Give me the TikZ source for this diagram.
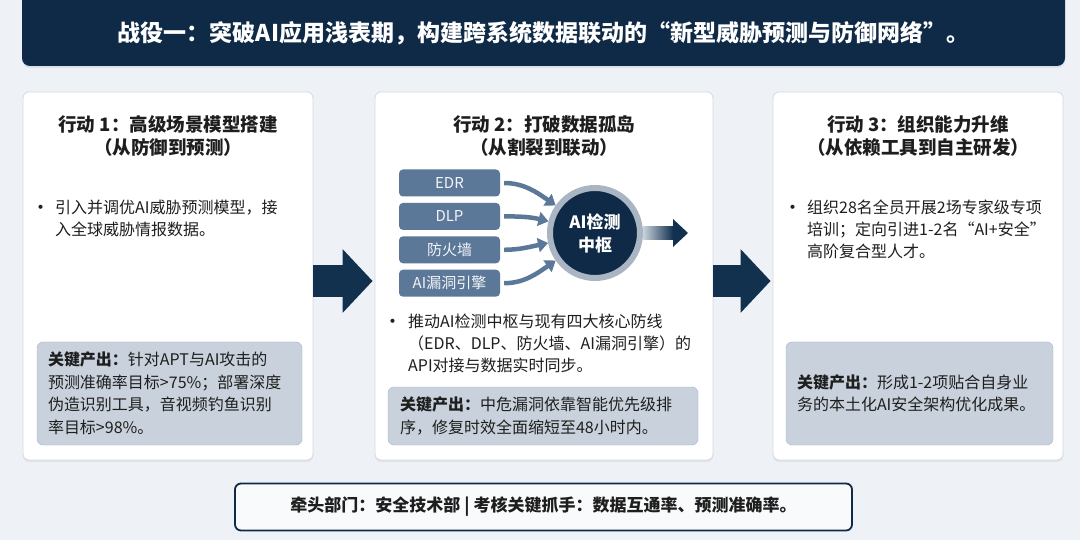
\documentclass[tikz,border=0pt]{standalone}
\usepackage{fontspec}
\setmainfont{Noto Sans CJK SC}
\usepackage{tikz}
\usetikzlibrary{arrows.meta, positioning, calc, shadows}
\definecolor{fondo}{HTML}{EEF2F6}
\definecolor{marino}{HTML}{0F2A47}
\definecolor{flecha}{HTML}{12314F}
\definecolor{borde}{HTML}{D3DAE2}
\definecolor{clave}{HTML}{C9D2DC}
\definecolor{claveborde}{HTML}{A8B4C1}
\definecolor{fuente}{HTML}{5B7898}
\definecolor{anillo}{HTML}{A9B5C2}
\definecolor{texto}{HTML}{1E1E1E}
\definecolor{claro}{HTML}{C9D3DD}
\tikzset{
    card/.style={draw=borde, fill=white, rounded corners=6pt, minimum height=368pt, line width=0.8pt,
        drop shadow={opacity=0.12, shadow xshift=0pt, shadow yshift=-2pt}},
    cardtitle/.style={align=center, text=texto, font=\fontsize{18.5}{23}\selectfont\bfseries},
    dot/.style={text=texto, font=\fontsize{19}{22}\selectfont, inner sep=0pt},
    body/.style={align=left, text=texto, font=\fontsize{16}{22}\selectfont, inner sep=0pt, anchor=north west},
    keybox/.style={draw=claveborde, fill=clave, rounded corners=6pt, align=left, text=texto,
        font=\fontsize{16}{22.5}\selectfont, inner xsep=11pt},
    src/.style={fill=fuente, text=white!92!fuente, rounded corners=4pt, minimum width=101pt,
        minimum height=27pt, inner sep=0pt, font=\fontsize{15}{18}\selectfont},
    hub/.style={circle, fill=marino, draw=anillo, line width=6pt, minimum size=90pt, align=center,
        text=white, font=\fontsize{17}{23}\selectfont\bfseries},
    feed/.style={-{Triangle[length=10pt, width=14pt]}, line width=4.5pt, fuente, shorten <=4pt},
    bigarrow/.style={-{Triangle[length=30pt, width=62pt]}, line width=32pt, flecha, shorten >=2pt},
    footer/.style={draw=marino, line width=1.8pt, fill=white!60!fondo, rounded corners=6pt,
        minimum width=617pt, minimum height=47pt, text=texto, font=\fontsize{17}{22}\selectfont\bfseries}
}
\begin{document}
\begin{tikzpicture}[x=1pt, y=1pt]
    \useasboundingbox (0,0) rectangle (1080,-540);
    \fill[fondo] (0,0) rectangle (1080,-540);

    % Titulo
    \fill[marino, rounded corners=8pt, drop shadow={opacity=0.15, shadow xshift=0pt, shadow yshift=-2pt}] (22,10) rectangle (1065,-66);
    \node[text=white, font=\fontsize{23}{28}\selectfont\bfseries] (title) at (543.5,-33)
        {战役一：突破AI应用浅表期，构建跨系统数据联动的“新型威胁预测与防御网络”。};

    % Tarjetas
    \node[card, minimum width=290pt] (c1) at (168,-276) {};
    \node[card, minimum width=338pt] (c2) at (544,-276) {};
    \node[card, minimum width=290pt] (c3) at (918,-276) {};

    % Flechas entre tarjetas
    \draw[bigarrow] ([yshift=-5pt]c1.east) -- ([yshift=-5pt]c2.west);
    \draw[bigarrow] ([yshift=-5pt]c2.east) -- ([yshift=-5pt]c3.west);

    % Accion 1
    \node[cardtitle] (t1) at (168,-136) {行动 1：高级场景模型搭建\\（从防御到预测）};
    \node[dot] (d1) at (41,-210) {•};
    \node[body] (b1) at (55,-200) {引入并调优AI威胁预测模型，接\\入全球威胁情报数据。};
    \node[keybox, minimum width=265pt, minimum height=103pt, text width=243pt] (k1) at (169.5,-393.5)
        {\textbf{关键产出：}针对APT与AI攻击的\\预测准确率目标>75\%；部署深度\\伪造识别工具，音视频钓鱼识别\\率目标>98\%。};

    % Accion 2
    \node[cardtitle] (t2) at (544,-136) {行动 2：打破数据孤岛\\（从割裂到联动）};
    \node[src] (edr) at (449.5,-183) {EDR};
    \node[src, below=6pt of edr] (dlp) {DLP};
    \node[src, below=6pt of dlp] (fw) {防火墙};
    \node[src, below=6pt of fw] (vuln) {AI漏洞引擎};
    \node[hub] (hub) at (595,-233) {AI检测\\中枢};
    \draw[feed] (edr.east) to[out=0, in=145] (hub);
    \draw[feed] (dlp.east) to[out=0, in=166] (hub);
    \draw[feed] (fw.east) to[out=0, in=192] (hub);
    \draw[feed] (vuln.east) to[out=0, in=215] (hub);
    \coordinate (otip) at (688,-233);
    \shade[left color=claro, right color=flecha] ([yshift=-6.5pt]hub.east) rectangle ([xshift=-15pt, yshift=6.5pt]otip);
    \fill[flecha] ([xshift=-15pt, yshift=14pt]otip) -- (otip) -- ([xshift=-15pt, yshift=-14pt]otip) -- cycle;
    \node[dot] (d2) at (393,-324) {•};
    \node[body] (b2) at (408,-314) {推动AI检测中枢与现有四大核心防线\\（EDR、DLP、防火墙、AI漏洞引擎）的\\API对接与数据实时同步。};
    \node[keybox, minimum width=310pt, minimum height=58pt, text width=286pt, inner xsep=12pt] (k2) at (543,-416)
        {\textbf{关键产出：}中危漏洞依靠智能优先级排\\序，修复时效全面缩短至48小时内。};

    % Accion 3
    \node[cardtitle] (t3) at (918,-136) {行动 3：组织能力升维\\（从依赖工具到自主研发）};
    \node[dot] (d3) at (793,-210) {•};
    \node[body] (b3) at (807,-200) {组织28名全员开展2场专家级专项\\培训；定向引进1-2名“AI+安全”\\高阶复合型人才。};
    \node[keybox, minimum width=265pt, minimum height=103pt, text width=245pt] (k3) at (919.5,-393.5)
        {\textbf{关键产出：}形成1-2项贴合自身业\\务的本土化AI安全架构优化成果。};

    % Pie
    \node[footer] (foot) at (543.5,-507) {牵头部门：安全技术部 | 考核关键抓手：数据互通率、预测准确率。};
\end{tikzpicture}
\end{document}
